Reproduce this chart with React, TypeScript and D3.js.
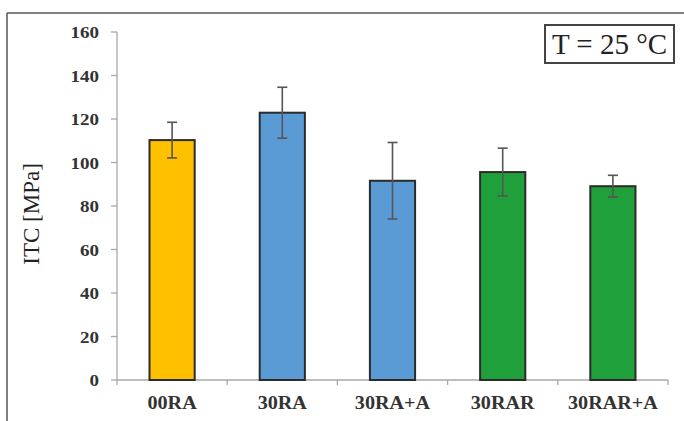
import React from "react";
import * as d3 from "d3";

// Indirect tensile strength at 25 °C per mixture
const categories: string[] = ["00RA", "30RA", "30RA+A", "30RAR", "30RAR+A"];
const itcMean: number[] = [110.3, 122.9, 91.6, 95.6, 89.1];
const itcError: number[] = [8.2, 11.7, 17.6, 11.0, 5.0];
const barColors: string[] = ["#FFC000", "#5B9BD5", "#5B9BD5", "#1FA03A", "#1FA03A"];
const yTicks: number[] = [0, 20, 40, 60, 80, 100, 120, 140, 160];
const yLabel = "ITC [MPa]";
const tempLabel = "T = 25 °C";

const W = 684;
const H = 421;
const plot = { left: 117, right: 668, top: 32, bottom: 380 };

export default function App() {
  const x = d3
    .scaleBand<string>()
    .domain(categories)
    .range([plot.left, plot.right])
    .paddingInner(0.59)
    .paddingOuter(0.295);
  const y = d3.scaleLinear().domain([0, 160]).range([plot.bottom, plot.top]);
  const step = x.step();
  const boundaries = d3.range(categories.length + 1).map((i) => plot.left + i * step);

  const serif = "Liberation Serif";
  const axisColor = "#a8a8a8";

  return (
    <svg
      width={W}
      height={H}
      viewBox={`0 0 ${W} ${H}`}
      style={{ position: "absolute", left: 0, top: 0, background: "#fff" }}
    >
      <rect x={0} y={0} width={W} height={H} fill="#fff" />
      {/* outer frame */}
      <line x1={7} y1={13} x2={W} y2={13} stroke="#555" strokeWidth={1.5} />
      <line x1={7} y1={13} x2={7} y2={H} stroke="#555" strokeWidth={1.5} />

      {/* y axis */}
      <line x1={plot.left} y1={y(160)} x2={plot.left} y2={y(0)} stroke={axisColor} strokeWidth={1.3} />
      {yTicks.map((t) => (
        <g key={t}>
          <line x1={plot.left - 6} x2={plot.left} y1={y(t)} y2={y(t)} stroke={axisColor} strokeWidth={1.3} />
          <text
            transform={`translate(${plot.left - 18},${y(t) + 6}) scale(1.12,1)`}
            textAnchor="end"
            fontFamily={serif}
            fontWeight="bold"
            fontSize={17}
            fill="#333"
          >
            {t}
          </text>
        </g>
      ))}

      {/* x axis */}
      <line x1={plot.left} y1={plot.bottom} x2={plot.right} y2={plot.bottom} stroke={axisColor} strokeWidth={1.3} />
      {boundaries.map((bx, i) => (
        <line key={i} x1={bx} x2={bx} y1={plot.bottom} y2={plot.bottom + 5} stroke={axisColor} strokeWidth={1.3} />
      ))}
      {categories.map((c) => (
        <text
          key={c}
          transform={`translate(${(x(c) ?? 0) + x.bandwidth() / 2},${409}) scale(1.12,1)`}
          textAnchor="middle"
          fontFamily={serif}
          fontWeight="bold"
          fontSize={18}
          fill="#333"
        >
          {c}
        </text>
      ))}

      {/* bars */}
      {categories.map((c, i) => (
        <rect
          key={c}
          x={x(c)}
          y={y(itcMean[i])}
          width={x.bandwidth()}
          height={y(0) - y(itcMean[i])}
          fill={barColors[i]}
          stroke="#2b2b2b"
          strokeWidth={2}
        />
      ))}

      {/* error bars */}
      {categories.map((c, i) => {
        const cx = (x(c) ?? 0) + x.bandwidth() / 2;
        const hi = y(itcMean[i] + itcError[i]);
        const lo = y(itcMean[i] - itcError[i]);
        return (
          <g key={c} stroke="#555" strokeWidth={1.6}>
            <line x1={cx} x2={cx} y1={hi} y2={lo} />
            <line x1={cx - 5} x2={cx + 5} y1={hi} y2={hi} />
            <line x1={cx - 5} x2={cx + 5} y1={lo} y2={lo} />
          </g>
        );
      })}

      {/* y axis title */}
      <text
        transform={`translate(${39},${214}) rotate(-90)`}
        textAnchor="middle"
        fontFamily={serif}
        fontSize={23}
        fill="#222"
      >
        {yLabel}
      </text>

      {/* temperature box */}
      <rect x={545} y={25} width={129} height={38} fill="#fff" stroke="#444" strokeWidth={2} />
      <text
        x={609.5}
        y={54}
        textAnchor="middle"
        fontFamily={serif}
        fontSize={29}
        fill="#222"
      >
        {tempLabel}
      </text>
    </svg>
  );
}
